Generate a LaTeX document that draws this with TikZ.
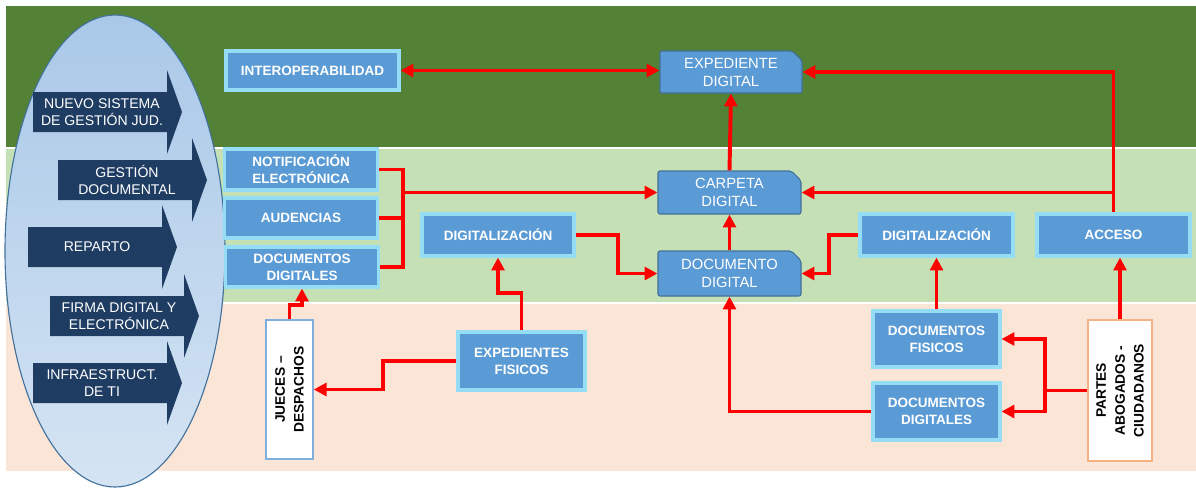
\documentclass[tikz,border=0pt]{standalone}
\usepackage{fontspec}
\setmainfont{Liberation Sans}
\usepackage{tikz}
\usetikzlibrary{arrows.meta}
\usetikzlibrary{shapes.misc}
\usetikzlibrary{shadows}
\definecolor{bandtop}{HTML}{538135}
\definecolor{bandmid}{HTML}{C5E0B4}
\definecolor{bandlow}{HTML}{FBE5D6}
\definecolor{boxblue}{HTML}{5B9BD5}
\definecolor{boxrim}{HTML}{95DDF5}
\definecolor{boxline}{HTML}{41719C}
\definecolor{navyarrow}{HTML}{1F3D63}
\definecolor{ovaltop}{HTML}{A9C8E8}
\definecolor{ovalbot}{HTML}{D5E4F3}
\definecolor{ovalline}{HTML}{41719C}
\definecolor{actorblue}{HTML}{7FAEDF}
\definecolor{actororange}{HTML}{F4B183}

\tikzset{
  sz/.style 2 args={minimum width=#1*0.025cm, minimum height=#2*0.025cm},
  pbox/.style={draw=boxrim, fill=boxblue, line width=2.2pt, text=white, align=center,
    inner sep=1pt, font=\fontsize{9.6}{12}\selectfont\bfseries,
    drop shadow={shadow xshift=1.2pt, shadow yshift=-1.2pt, opacity=0.35}},
  dbox/.style={chamfered rectangle, chamfered rectangle corners=north east,
    chamfered rectangle xsep=0.12cm, chamfered rectangle ysep=0.12cm,
    rounded corners=1.5pt,
    draw=boxline, fill=boxblue, line width=0.8pt, text=white, align=center,
    inner sep=1pt, font=\fontsize{10.5}{12.8}\selectfont},
  actor/.style={draw=#1, fill=white, line width=1pt, rotate=90, align=center,
    inner sep=1pt, font=\fontsize{9.8}{13.5}\selectfont\bfseries},
  arrowtext/.style={text=white, align=center, font=\fontsize{10}{12}\selectfont},
  link/.style={draw=red, line width=2.8pt},
}

\begin{document}
\begin{tikzpicture}[x=0.025cm, y=-0.025cm, >={Triangle[length=3.2mm,width=3.2mm]}]
  \useasboundingbox (0,0) rectangle (1196,487);
  %% bands
  \fill[bandtop] (6,6) rectangle (1196,148);
  \fill[bandmid] (6,148) rectangle (1196,303);
  \fill[bandlow] (6,303) rectangle (1196,471);
  \draw[white, line width=1pt] (6,148) -- (1196,148);
  \draw[white, line width=1pt] (6,303) -- (1196,303);
  %% oval with the five pillars
  \draw[ovalline, line width=0.8pt, top color=ovaltop, bottom color=ovalbot]
    (115,251) ellipse [x radius=110, y radius=236];
  \foreach \xl/\yc/\lbl [count=\i] in {33/112/{NUEVO SISTEMA\\DE GESTIÓN JUD.},
      58/180/{GESTIÓN\\DOCUMENTAL}, 28/247/{REPARTO},
      50/316/{FIRMA DIGITAL Y\\ELECTRÓNICA}, 33/383/{INFRAESTRUCT.\\DE TI}}
  {
    \fill[navyarrow] (\xl,\yc-20) -- ++(134,0) -- ++(0,-22) -- ++(15,42)
      -- ++(-15,42) -- ++(0,-22) -- ++(-134,0) -- cycle;
    \node[arrowtext] (pill\i) at (\xl+69,\yc) {\lbl};
  }
  %% boxes
  \node[pbox, sz={173}{39}] (interop) at (312.5,70.5) {INTEROPERABILIDAD};
  \node[pbox, sz={153}{41}] (notif) at (301,169.5) {NOTIFICACIÓN\\ELECTRÓNICA};
  \node[pbox, sz={153}{40}] (aud) at (301,218) {AUDENCIAS};
  \node[pbox, sz={153}{40}] (docl) at (302,267) {DOCUMENTOS\\DIGITALES};
  \node[pbox, sz={152}{42}] (digl) at (498,235) {DIGITALIZACIÓN};
  \node[pbox, sz={153}{42}] (digr) at (936.5,235) {DIGITALIZACIÓN};
  \node[pbox, sz={153}{42}] (acceso) at (1113.5,235) {ACCESO};
  \node[pbox, sz={127}{58}] (expfis) at (521.5,361) {EXPEDIENTES\\FISICOS};
  \node[pbox, sz={127}{56}] (docfis) at (936.5,339) {DOCUMENTOS\\FISICOS};
  \node[pbox, sz={127}{57}] (docdigr) at (936.5,411.5) {DOCUMENTOS\\DIGITALES};
  \node[dbox, sz={142}{42}] (expdig) at (731,72) {EXPEDIENTE\\DIGITAL};
  \node[dbox, sz={143}{43}] (carpeta) at (729.5,192.5) {CARPETA\\DIGITAL};
  \node[dbox, sz={143}{45}] (docdig) at (729.5,273.5) {DOCUMENTO\\DIGITAL};
  \node[actor=actorblue, sz={139}{47}] (jueces) at (289.5,389.5) {JUECES –\\DESPACHOS};
  \node[actor=actororange, sz={141}{64}] (partes) at (1120,390.5) {PARTES\\ABOGADOS -\\CIUDADANOS};
  %% connectors
  \draw[link,<->] (interop.east) -- (interop.east -| expdig.west);
  \draw[link,->] (acceso.north) |- (expdig.east);
  \draw[link,->] (acceso.north) |- (carpeta.east);
  \draw[link,->] (carpeta.north) -- (expdig.south);
  \draw[link,->] (docdig.north) -- (carpeta.south);
  \coordinate (lbus) at (403,192.5);
  \draw[link] (notif.east) -| (lbus) |- (docl.east);
  \draw[link] (aud.east) -- (aud.east -| lbus);
  \draw[link,->] (lbus) -- (carpeta.west);
  \draw[link,->] (digl.east) -- ++(42,0) |- (docdig.west);
  \draw[link,->] (digr.west) -- ++(-29,0) |- (docdig.east);
  \draw[link,->] (expfis.north) -- ++(0,-37) -| (digl.south);
  \draw[link,->] (expfis.west) -- ++(-73,0) |- (jueces.south);
  \draw[link,->] (jueces.east) -- ++(0,-14) -| (docl.south);
  \draw[link,->] (docfis.north) -- (digr.south);
  \draw[link,->] (partes.east) -- (partes.east |- acceso.south);
  \coordinate (rbus) at (1045,390.5);
  \draw[link] (partes.north) -- (rbus);
  \draw[link,->] (rbus) |- (docfis.east);
  \draw[link,->] (rbus) |- (docdigr.east);
  \draw[link,->] (docdigr.west) -| (docdig.south);
\end{tikzpicture}
\end{document}
